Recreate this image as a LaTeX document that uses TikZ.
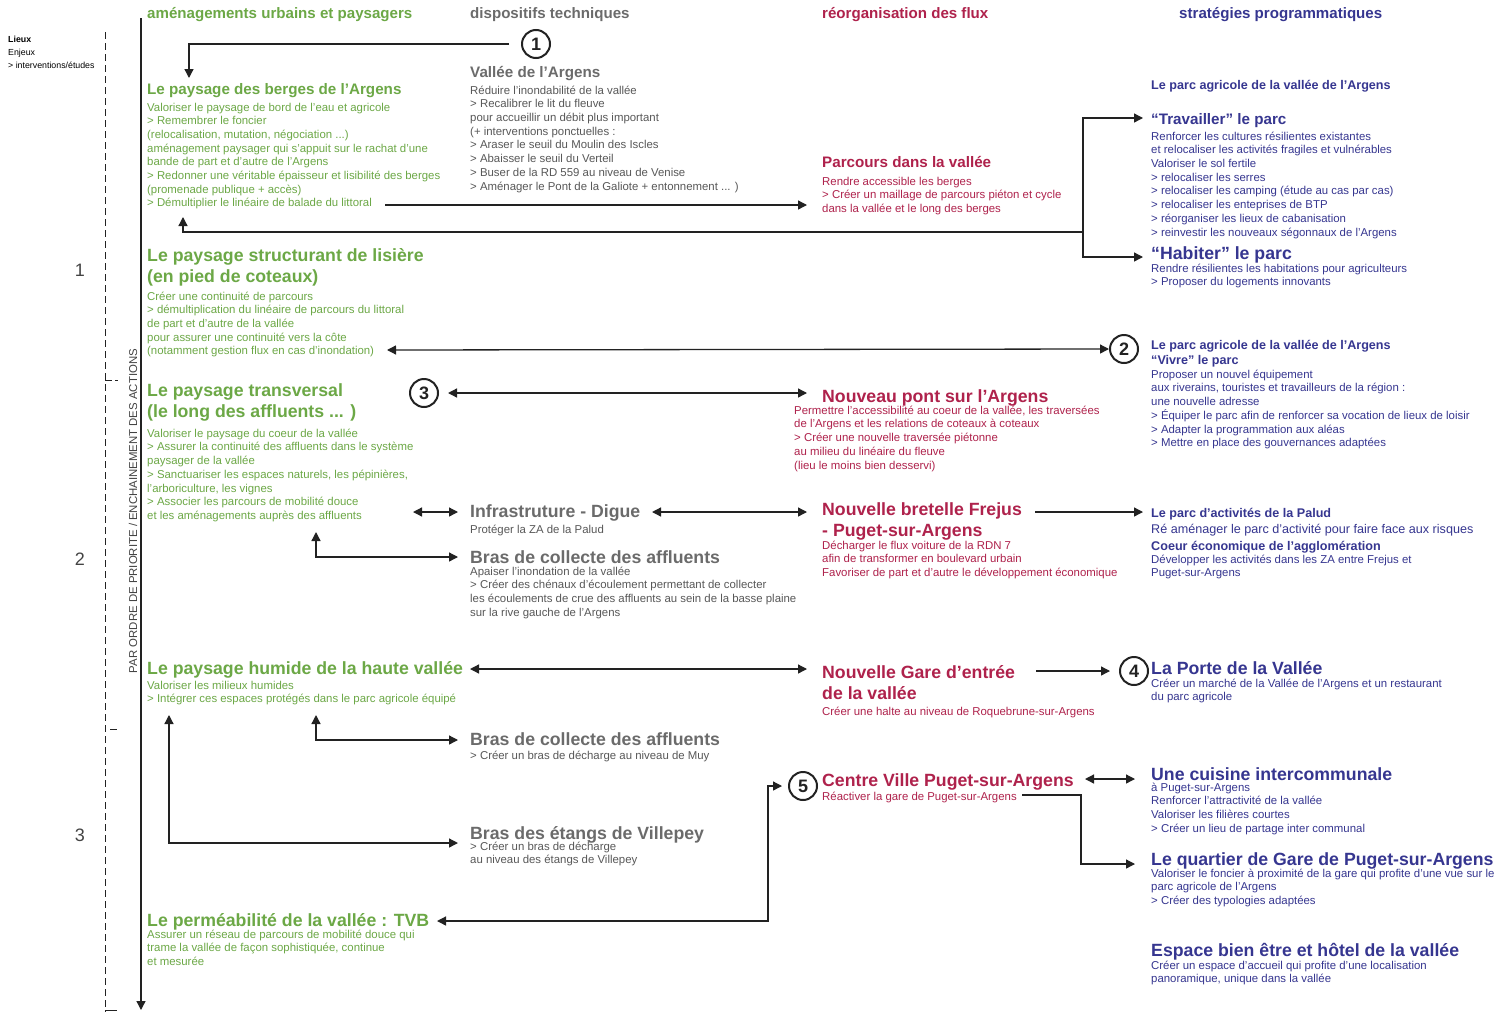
\documentclass[tikz,border=0pt]{standalone}
\usepackage{fontspec}
\setmainfont{Liberation Sans}
\usetikzlibrary{arrows.meta}

\definecolor{vert}{HTML}{6CA846}
\definecolor{gristitre}{HTML}{6B6B6B}
\definecolor{gris}{HTML}{585858}
\definecolor{rouge}{HTML}{AF224C}
\definecolor{bleu}{HTML}{363690}
\definecolor{trait}{HTML}{222222}

\tikzset{
  corps/.style={anchor=north west, inner sep=0pt, align=left,
    font=\fontsize{11.4}{13.7}\selectfont, execute at begin node=\strut, yshift=4.4pt},
  titreA/.style={anchor=north west, inner sep=0pt, align=left,
    font=\bfseries\fontsize{17.7}{21}\selectfont, execute at begin node=\strut, yshift=7pt},
  titreB/.style={anchor=north west, inner sep=0pt, align=left,
    font=\bfseries\fontsize{15.2}{18}\selectfont, execute at begin node=\strut, yshift=7pt},
  titreC/.style={anchor=north west, inner sep=0pt, align=left,
    font=\bfseries\fontsize{12.6}{15}\selectfont, execute at begin node=\strut, yshift=5.3pt},
  legende/.style={anchor=north west, inner sep=0pt, align=left,
    font=\fontsize{8.8}{13}\selectfont, execute at begin node=\strut, yshift=5pt},
  rond/.style={circle, draw=trait, line width=2pt, minimum size=28pt, inner sep=0pt,
    font=\bfseries\fontsize{18}{18}\selectfont, text=trait},
  fleche/.style={draw=trait, line width=1.3pt, -{Triangle[length=9pt,width=9pt]}},
  fleches/.style={draw=trait, line width=1.3pt,
    {Triangle[length=9pt,width=9pt]}-{Triangle[length=9pt,width=9pt]}},
  pointille/.style={draw=trait, line width=1pt, dash pattern=on 7pt off 4pt},
}

\begin{document}
\begin{tikzpicture}[x=1pt,y=-1pt]
\fill[white] (0,0) rectangle (1507,1012);
\useasboundingbox (0,0) rectangle (1507,1012);

% axe des priorites
\node[legende] (leg) at (8,41) {\textbf{Lieux}\\Enjeux\\> interventions/études};
\draw[pointille] (105,32) -- (105,1012);
\draw[line width=1pt, trait] (105,380) -- (112,380) (115,380) -- (118,380);
\draw[line width=1pt, trait] (110,729) -- (117,729);
\draw[line width=1pt, trait] (105,1010) -- (117,1010);
\coordinate (axeH) at (141,18);
\coordinate (axeB) at (141,1010);
\draw[fleche] (axeH) -- (axeB);
\node[rotate=90, font=\fontsize{11.4}{13}\selectfont, text=trait!85] (axe) at (133,511)
  {PAR ORDRE DE PRIORITE / ENCHAINEMENT DES ACTIONS};
\foreach \n/\y in {1/270, 2/559, 3/835}
  \node[font=\fontsize{18}{18}\selectfont, text=trait!85] (n\n) at (80,\y) {\n};

% entetes
\node[titreB, font=\bfseries\fontsize{15.1}{18}\selectfont, text=vert] (hA) at (147,13) {aménagements urbains et paysagers};
\node[titreB, font=\bfseries\fontsize{15.1}{18}\selectfont, text=gristitre] (hB) at (470,13) {dispositifs techniques};
\node[titreB, font=\bfseries\fontsize{15.1}{18}\selectfont, text=rouge] (hC) at (822,13) {réorganisation des flux};
\node[titreB, font=\bfseries\fontsize{15.1}{18}\selectfont, text=bleu] (hD) at (1179,13) {stratégies programmatiques};

% amenagements urbains et paysagers
\node[titreB, text=vert] (bergesT) at (147,89) {Le paysage des berges de l’Argens};
\node[corps, text=vert] (berges) at (147,107) {Valoriser le paysage de bord de l’eau et agricole\\
> Remembrer le foncier\\
(relocalisation, mutation, négociation ...)\\
aménagement paysager qui s’appuit sur le rachat d’une\\
bande de part et d’autre de l’Argens\\
> Redonner une véritable épaisseur et lisibilité des berges\\
(promenade publique + accès)\\
> Démultiplier le linéaire de balade du littoral};
\node[titreA, text=vert] (lisiereT) at (147,255) {Le paysage structurant de lisière\\(en pied de coteaux)};
\node[corps, text=vert] (lisiere) at (147,296) {Créer une continuité de parcours\\
> démultiplication du linéaire de parcours du littoral\\
de part et d’autre de la vallée\\
pour assurer une continuité vers la côte\\
(notamment gestion flux en cas d’inondation)};
\node[titreA, text=vert] (transT) at (147,390) {Le paysage transversal\\(le long des affluents ... )};
\node[corps, text=vert] (trans) at (147,433) {Valoriser le paysage du coeur de la vallée\\
> Assurer la continuité des affluents dans le système\\
paysager de la vallée\\
> Sanctuariser les espaces naturels, les pépinières,\\
l’arboriculture, les vignes\\
> Associer les parcours de mobilité douce\\
et les aménagements auprès des affluents};
\node[titreA, text=vert] (humideT) at (147,667) {Le paysage humide de la haute vallée};
\node[corps, text=vert] (humide) at (147,685) {Valoriser les milieux humides\\
> Intégrer ces espaces protégés dans le parc agricole équipé};
\node[titreA, text=vert] (tvbT) at (147,919) {Le perméabilité de la vallée : TVB};
\node[corps, text=vert] (tvb) at (147,934) {Assurer un réseau de parcours de mobilité douce qui\\
trame la vallée de façon sophistiquée, continue\\
et mesurée};

% dispositifs techniques
\node[rond] (c1) at (536,44) {1};
\node[titreB, text=gristitre] (valleeT) at (470,72) {Vallée de l’Argens};
\node[corps, text=gris] (vallee) at (470,90) {Réduire l’inondabilité de la vallée\\
> Recalibrer le lit du fleuve\\
pour accueillir un débit plus important\\
(+ interventions ponctuelles :\\
> Araser le seuil du Moulin des Iscles\\
> Abaisser le seuil du Verteil\\
> Buser de la RD 559 au niveau de Venise\\
> Aménager le Pont de la Galiote + entonnement ... )};
\node[rond] (c3) at (424,393) {3};
\node[titreA, text=gristitre] (digueT) at (470,510) {Infrastruture - Digue};
\node[corps, text=gris] (digue) at (470,528) {Protéger la ZA de la Palud};
\node[titreA, text=gristitre] (brasAT) at (470,556) {Bras de collecte des affluents};
\node[corps, text=gris] (brasA) at (470,571) {Apaiser l’inondation de la vallée\\
> Créer des chénaux d’écoulement permettant de collecter\\
les écoulements de crue des affluents au sein de la basse plaine\\
sur la rive gauche de l’Argens};
\node[titreA, text=gristitre] (brasBT) at (470,738) {Bras de collecte des affluents};
\node[corps, text=gris] (brasB) at (470,754) {> Créer un bras de décharge au niveau de Muy};
\node[titreA, text=gristitre] (etangsT) at (470,832) {Bras des étangs de Villepey};
\node[corps, text=gris] (etangs) at (470,846) {> Créer un bras de décharge\\au niveau des étangs de Villepey};

% reorganisation des flux
\node[titreB, text=rouge] (parcoursT) at (822,162) {Parcours dans la vallée};
\node[corps, text=rouge] (parcours) at (822,181) {Rendre accessible les berges\\
> Créer un maillage de parcours piéton et cycle\\
dans la vallée et le long des berges};
\node[titreA, text=rouge] (pontT) at (822,395) {Nouveau pont sur l’Argens};
\node[corps, text=rouge] (pont) at (794,410) {Permettre l’accessibilité au coeur de la vallée, les traversées\\
de l’Argens et les relations de coteaux à coteaux\\
> Créer une nouvelle traversée piétonne\\
au milieu du linéaire du fleuve\\
(lieu le moins bien desservi)};
\node[titreA, text=rouge] (bretelleT) at (822,509) {Nouvelle bretelle Frejus\\- Puget-sur-Argens};
\node[corps, text=rouge] (bretelle) at (822,545) {Décharger le flux voiture de la RDN 7\\
afin de transformer en boulevard urbain\\
Favoriser de part et d’autre le développement économique};
\node[titreA, text=rouge] (gareT) at (822,672) {Nouvelle Gare d’entrée\\de la vallée};
\node[corps, text=rouge] (gare) at (822,710) {Créer une halte au niveau de Roquebrune-sur-Argens};
\node[rond] (c5) at (803,786) {5};
\node[titreA, text=rouge] (centreT) at (822,779) {Centre Ville Puget-sur-Argens};
\node[corps, text=rouge] (centre) at (822,795) {Réactiver la gare de Puget-sur-Argens};

% strategies programmatiques
\node[titreC, text=bleu] (parcT) at (1151,84) {Le parc agricole de la vallée de l’Argens};
\node[titreB, text=bleu] (travT) at (1151,119) {“Travailler” le parc};
\node[corps, text=bleu] (trav) at (1151,136) {Renforcer les cultures résilientes existantes\\
et relocaliser les activités fragiles et vulnérables\\
Valoriser le sol fertile\\
> relocaliser les serres\\
> relocaliser les camping (étude au cas par cas)\\
> relocaliser les enteprises de BTP\\
> réorganiser les lieux de cabanisation\\
> reinvestir les nouveaux ségonnaux de l’Argens};
\node[titreA, text=bleu] (habT) at (1151,252) {“Habiter” le parc};
\node[corps, text=bleu] (hab) at (1151,268) {Rendre résilientes les habitations pour agriculteurs\\
> Proposer du logements innovants};
\node[rond] (c2) at (1124,349) {2};
\node[titreC, text=bleu] (vivreT) at (1151,345) {Le parc agricole de la vallée de l’Argens\\“Vivre” le parc};
\node[corps, text=bleu] (vivre) at (1151,374) {Proposer un nouvel équipement\\
aux riverains, touristes et travailleurs de la région :\\
une nouvelle adresse\\
> Équiper le parc afin de renforcer sa vocation de lieux de loisir\\
> Adapter la programmation aux aléas\\
> Mettre en place des gouvernances adaptées};
\node[titreC, text=bleu] (paludT) at (1151,512) {Le parc d’activités de la Palud};
\node[titreC, font=\fontsize{12.6}{15}\selectfont, text=bleu] (palud) at (1151,528) {Ré aménager le parc d’activité pour faire face aux risques};
\node[titreC, text=bleu] (coeurT) at (1151,545) {Coeur économique de l’agglomération};
\node[corps, text=bleu] (coeur) at (1151,559) {Développer les activités dans les ZA entre Frejus et\\Puget-sur-Argens};
\node[rond] (c4) at (1134,671) {4};
\node[titreA, text=bleu] (porteT) at (1151,667) {La Porte de la Vallée};
\node[corps, text=bleu] (porte) at (1151,683) {Créer un marché de la Vallée de l’Argens et un restaurant\\du parc agricole};
\node[titreA, text=bleu] (cuisineT) at (1151,773) {Une cuisine intercommunale};
\node[corps, text=bleu] (cuisine) at (1151,787) {à Puget-sur-Argens\\
Renforcer l’attractivité de la vallée\\
Valoriser les filières courtes\\
> Créer un lieu de partage inter communal};
\node[titreA, text=bleu] (quartierT) at (1151,858) {Le quartier de Gare de Puget-sur-Argens};
\node[corps, text=bleu] (quartier) at (1151,873) {Valoriser le foncier à proximité de la gare qui profite d’une vue sur le\\
parc agricole de l’Argens\\
> Créer des typologies adaptées};
\node[titreA, text=bleu] (espaceT) at (1151,949) {Espace bien être et hôtel de la vallée};
\node[corps, text=bleu] (espace) at (1151,965) {Créer un espace d’accueil qui profite d’une localisation\\
panoramique, unique dans la vallée};

% connecteurs
\coordinate (bergesH) at (189,78);
\coordinate (bergesA) at (385,205);
\coordinate (bergesB) at (183,217);
\coordinate (parcoursA) at (807,205);
\coordinate (noeudP) at (1083,232);
\coordinate (travA) at (1143,118);
\coordinate (habA) at (1143,257);
\coordinate (lisiereA) at (387,350);
\coordinate (pontA) at (807,393);
\coordinate (digueA) at (413,512);
\coordinate (digueB) at (458,512);
\coordinate (digueC) at (652,512);
\coordinate (bretelleA) at (807,512);
\coordinate (bretelleB) at (1035,512);
\coordinate (paludA) at (1143,512);
\coordinate (transA) at (316,532);
\coordinate (brasAin) at (458,557);
\coordinate (humideA) at (470,669);
\coordinate (gareA) at (807,669);
\coordinate (gareB) at (1036,671);
\coordinate (humideB) at (316,715);
\coordinate (brasBin) at (458,740);
\coordinate (humideC) at (169,715);
\coordinate (etangsA) at (458,843);
\coordinate (tvbA) at (437,921);
\coordinate (coudeC) at (768,786);
\coordinate (centreA) at (1085,779);
\coordinate (cuisineA) at (1135,779);
\coordinate (centreB) at (1022,795);
\coordinate (coudeD) at (1081,795);
\coordinate (quartierA) at (1135,864);

\draw[fleche] ([xshift=-12pt]c1.west) -| (bergesH);
\draw[fleche] (bergesA) -- (parcoursA);
\draw[fleche] (noeudP) -| (bergesB);
\draw[fleche] (noeudP) |- (travA);
\draw[fleche] (noeudP) |- (habA);
\draw[fleches] (lisiereA) -- (c2.west);
\draw[fleches] ([xshift=9pt]c3.east) -- (pontA);
\draw[fleches] (digueA) -- (digueB);
\draw[fleches] (digueC) -- (bretelleA);
\draw[fleche] (bretelleB) -- (paludA);
\draw[fleches] (transA) |- (brasAin);
\draw[fleches] (humideA) -- (gareA);
\draw[fleche] (gareB) -- ([xshift=-9pt]c4.west);
\draw[fleches] (humideB) |- (brasBin);
\draw[fleches] (humideC) |- (etangsA);
\draw[fleches] (tvbA) -| (coudeC) -- ([xshift=-6pt]c5.west);
\draw[fleches] (centreA) -- (cuisineA);
\draw[fleche] (centreB) -- (coudeD) |- (quartierA);
\end{tikzpicture}
\end{document}
